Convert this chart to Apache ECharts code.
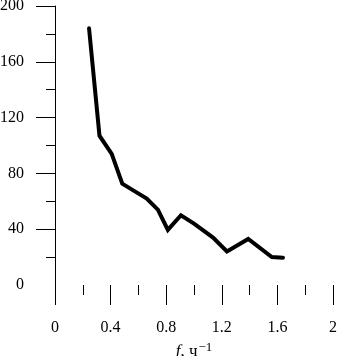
<!DOCTYPE html>
<html>
<head>
<meta charset="utf-8">
<script src="https://cdn.jsdelivr.net/npm/echarts@6/dist/echarts.min.js"></script>
<style>html,body{margin:0;padding:0;background:#fff}#c{width:338px;height:356px}</style>
</head>
<body>
<div id="c"></div>
<script>
var freq = [0.245, 0.32, 0.408, 0.484, 0.56, 0.66, 0.74, 0.812, 0.906, 1.0, 1.137, 1.237, 1.39, 1.56, 1.64];
var values = [184, 107, 94, 72.6, 68, 62, 54, 39.5, 50, 44, 34, 24, 33, 20, 19.6];
var yMajorTicks = [40, 80, 120, 160, 200];
var yMinorTicks = [20, 60, 100, 140, 180];
var yLabels = [0, 40, 80, 120, 160, 200];

var FONT = 'Liberation Serif';
var chart = echarts.init(document.getElementById('c'), null, {renderer: 'canvas'});
chart.setOption({
  animation: false,
  backgroundColor: '#fff',
  grid: {left: 55, right: 5, top: 6, bottom: 71, containLabel: false, outerBoundsMode: 'none'},
  xAxis: {
    type: 'value', min: 0, max: 2, interval: 0.4,
    axisLine: {show: false},
    axisTick: {show: true, length: 20, lineStyle: {color: '#000', width: 1}},
    minorTick: {show: true, splitNumber: 2, length: 10, lineStyle: {color: '#000', width: 1}},
    splitLine: {show: false},
    minorSplitLine: {show: false},
    axisLabel: {
      margin: 35, color: '#000', fontFamily: FONT, fontSize: 16,
      formatter: function (v) { return String(Math.round(v * 10) / 10); }
    },
    name: '{i|f}{n|, ч}{s|−1}',
    nameLocation: 'middle',
    nameGap: 56,
    nameMoveOverlap: false,
    nameTextStyle: {
      color: '#000', fontFamily: FONT, fontSize: 16,
      rich: {
        i: {fontFamily: FONT, fontStyle: 'italic', fontSize: 17, color: '#000'},
        n: {fontFamily: FONT, fontSize: 17, color: '#000'},
        s: {fontFamily: FONT, fontSize: 13, color: '#000', padding: [0, 0, 8, 1]}
      }
    }
  },
  yAxis: [{
    type: 'value', min: 0, max: 200, interval: 40,
    axisLine: {show: true, lineStyle: {color: '#000', width: 1}},
    axisTick: {show: true, length: 19, customValues: yMajorTicks, lineStyle: {color: '#000', width: 1}},
    splitLine: {show: false},
    axisLabel: {margin: 31, color: '#000', fontFamily: FONT, fontSize: 16, customValues: yLabels}
  }, {
    type: 'value', min: 0, max: 200, interval: 40, position: 'left',
    axisLine: {show: false},
    axisTick: {show: true, length: 9, customValues: yMinorTicks, lineStyle: {color: '#000', width: 1}},
    splitLine: {show: false},
    axisLabel: {show: false}
  }],
  series: [{
    type: 'line',
    yAxisIndex: 0,
    data: freq.map(function (f, i) { return [f, values[i]]; }),
    showSymbol: false,
    symbol: 'none',
    lineStyle: {color: '#000', width: 4, cap: 'round', join: 'miter'}
  }]
});
</script>
</body>
</html>
